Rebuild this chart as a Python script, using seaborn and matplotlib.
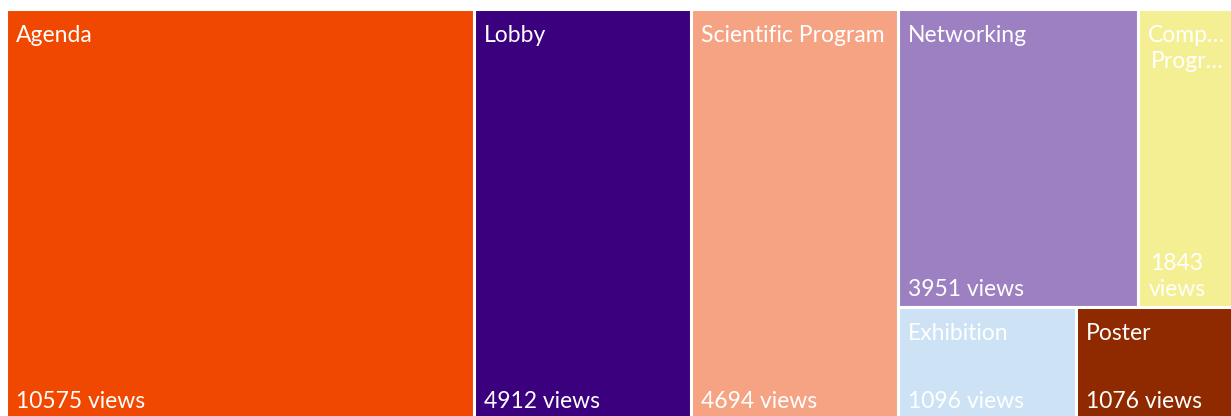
import matplotlib
matplotlib.use('Agg')
import matplotlib.pyplot as plt
from matplotlib.patches import Rectangle
import seaborn as sns

# data
labels = ["Agenda", "Lobby", "Scientific Program", "Networking",
          "Comp…\nProgr…", "Exhibition", "Poster"]
views = [10575, 4912, 4694, 3951, 1843, 1096, 1076]
colors = ["#F04800", "#3A007D", "#F5A383", "#9D80C1",
          "#F5EF93", "#CDE2F5", "#8E2900"]
# columns -> rows -> tiles (indices into the lists above)
layout = [[[0]], [[1]], [[2]], [[3, 4], [5, 6]]]


def compute_tiles(layout, values):
    total = sum(values[i] for col in layout for row in col for i in row)
    out = {}
    x = 0.0
    for col in layout:
        col_sum = sum(values[i] for row in col for i in row)
        w = col_sum / total
        y = 0.0
        for row in col:
            row_sum = sum(values[i] for i in row)
            h = row_sum / col_sum
            xi = x
            for i in row:
                wi = w * values[i] / row_sum
                out[i] = (xi, y, wi, h)
                xi += wi
            y += h
        x += w
    return out


sns.set_style("white")
plt.rcParams['font.family'] = ['Lato', 'DejaVu Sans']

fig = plt.figure(figsize=(12.31, 4.16), dpi=100)
# the treemap overflows the frame on the right and bottom, as in the source
ax = fig.add_axes([6.3 / 1231, (416 - 418.6) / 416, 1244 / 1231, 409.3 / 416])
ax.set_xlim(0, 1)
ax.set_ylim(1, 0)
ax.set_axis_off()

tiles = compute_tiles(layout, views)
for i, (x, y, w, h) in tiles.items():
    ax.add_patch(Rectangle((x, y), w, h, facecolor=colors[i],
                           edgecolor='white', linewidth=2.2))
    px_w = ax.transData.transform((x + w, 0))[0] - ax.transData.transform((x, 0))[0]
    value_text = f"{views[i]} views"
    if px_w < 150:
        value_text = value_text.replace(" ", "\n")
    ax.annotate(labels[i], xy=(x, y), xytext=(10, -16), textcoords='offset pixels',
                ha='left', va='top', multialignment='center',
                color='white', fontsize=16.5, linespacing=1.3)
    ax.annotate(value_text, xy=(x, y + h), xytext=(10, 7), textcoords='offset pixels',
                ha='left', va='bottom', multialignment='center',
                color='white', fontsize=16.5, linespacing=1.3)

fig.savefig('out.png', dpi=100)
plt.close()
